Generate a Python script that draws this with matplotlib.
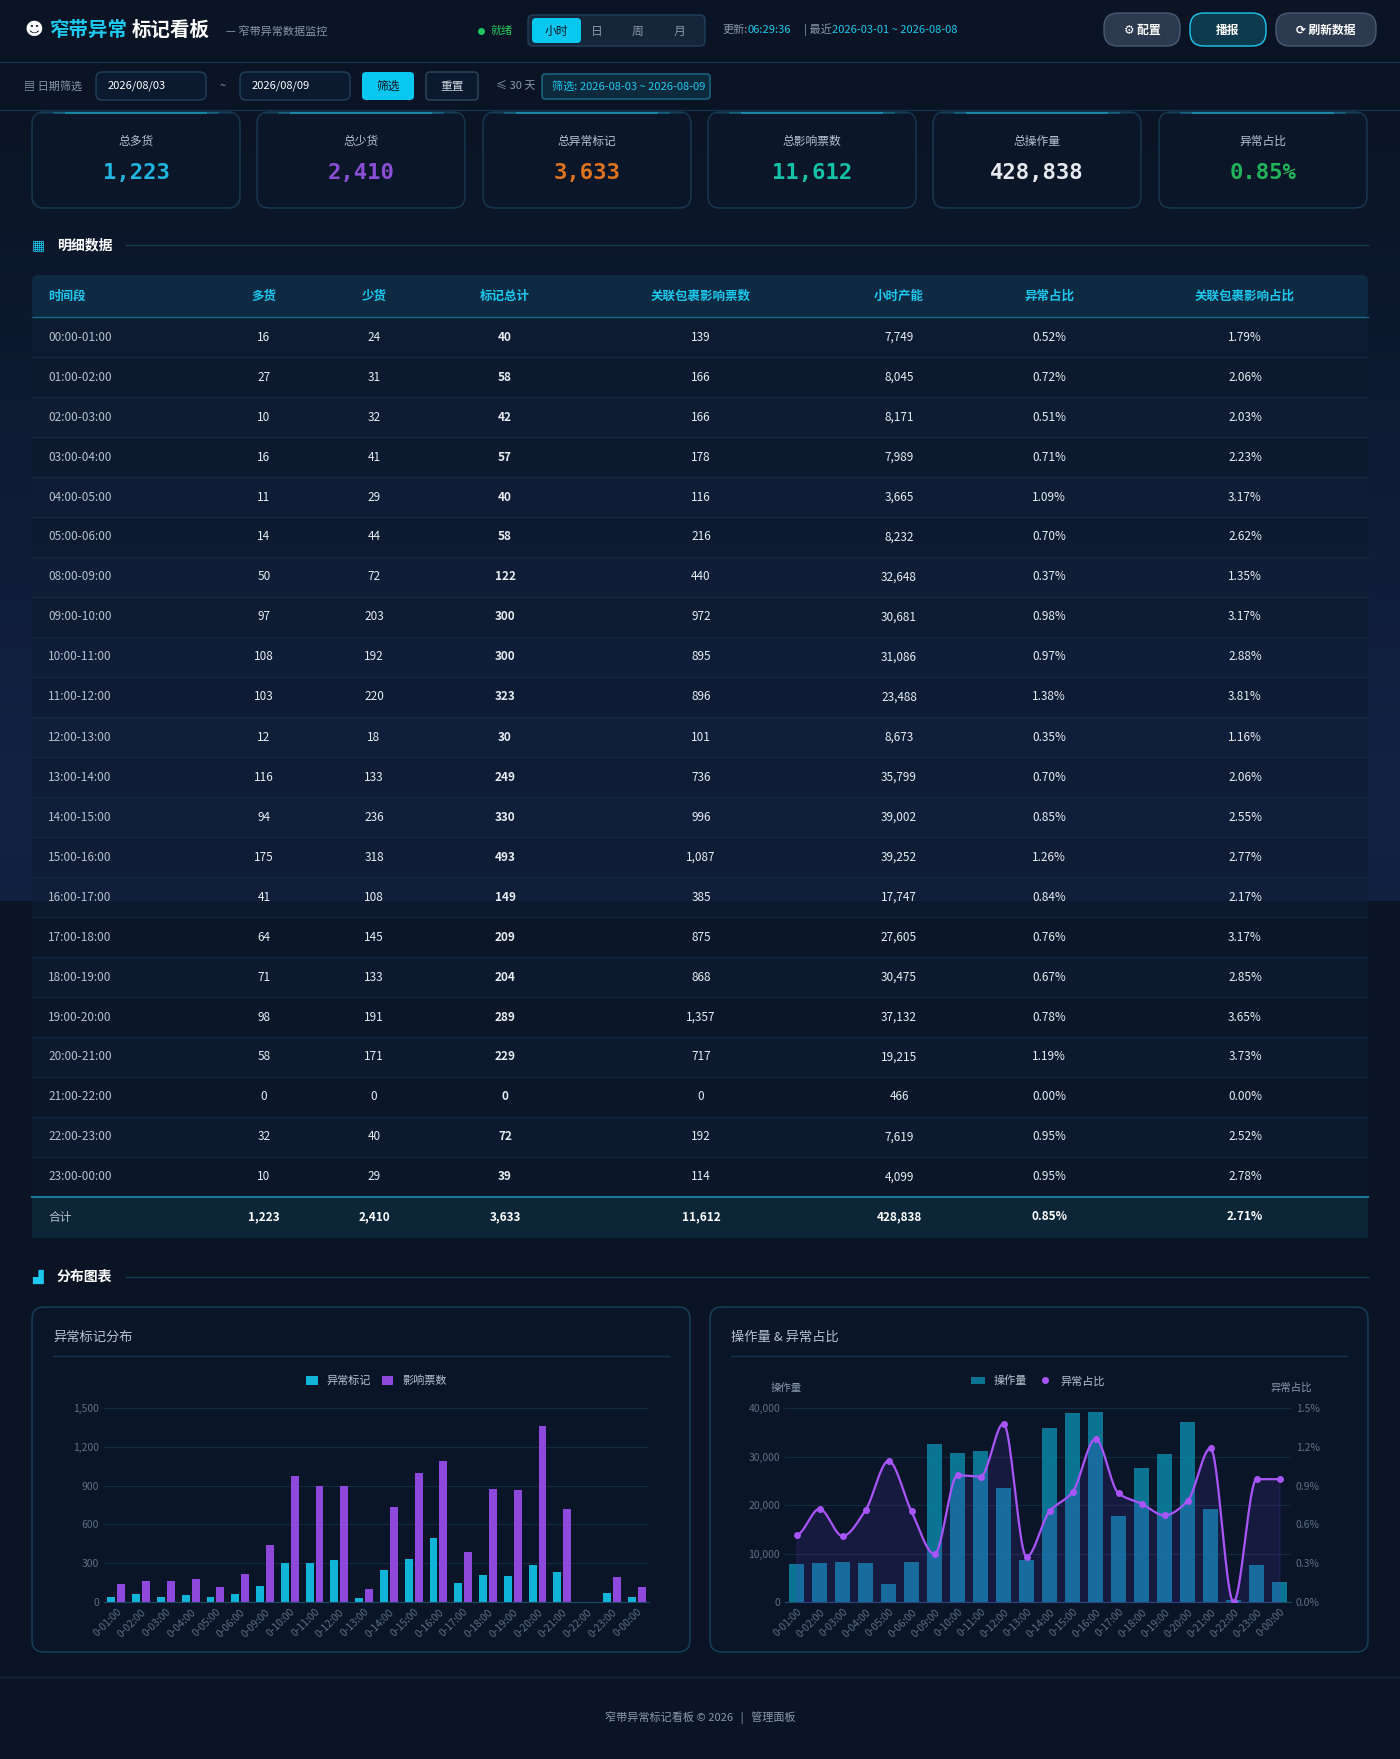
import matplotlib
matplotlib.use("Agg")
import matplotlib.pyplot as plt
import numpy as np
from matplotlib.patches import FancyBboxPatch, Rectangle

plt.rcParams["font.family"] = ["Noto Sans CJK SC", "DejaVu Sans"]

# ---- data ----
periods = ["00:00-01:00", "01:00-02:00", "02:00-03:00", "03:00-04:00", "04:00-05:00", "05:00-06:00",
           "08:00-09:00", "09:00-10:00", "10:00-11:00", "11:00-12:00", "12:00-13:00", "13:00-14:00",
           "14:00-15:00", "15:00-16:00", "16:00-17:00", "17:00-18:00", "18:00-19:00", "19:00-20:00",
           "20:00-21:00", "21:00-22:00", "22:00-23:00", "23:00-00:00"]
over = [16, 27, 10, 16, 11, 14, 50, 97, 108, 103, 12, 116, 94, 175, 41, 64, 71, 98, 58, 0, 32, 10]
short = [24, 31, 32, 41, 29, 44, 72, 203, 192, 220, 18, 133, 236, 318, 108, 145, 133, 191, 171, 0, 40, 29]
marks = [40, 58, 42, 57, 40, 58, 122, 300, 300, 323, 30, 249, 330, 493, 149, 209, 204, 289, 229, 0, 72, 39]
tickets = [139, 166, 166, 178, 116, 216, 440, 972, 895, 896, 101, 736, 996, 1087, 385, 875, 868, 1357,
           717, 0, 192, 114]
capacity = [7749, 8045, 8171, 7989, 3665, 8232, 32648, 30681, 31086, 23488, 8673, 35799, 39002, 39252,
            17747, 27605, 30475, 37132, 19215, 466, 7619, 4099]
abn_rate = [0.52, 0.72, 0.51, 0.71, 1.09, 0.70, 0.37, 0.98, 0.97, 1.38, 0.35, 0.70, 0.85, 1.26, 0.84,
            0.76, 0.67, 0.78, 1.19, 0.00, 0.95, 0.95]
pkg_rate = [1.79, 2.06, 2.03, 2.23, 3.17, 2.62, 1.35, 3.17, 2.88, 3.81, 1.16, 2.06, 2.55, 2.77, 2.17,
            3.17, 2.85, 3.65, 3.73, 0.00, 2.52, 2.78]
kpi_labels = ["总多货", "总少货", "总异常标记", "总影响票数", "总操作量", "异常占比"]
kpi_values = ["1,223", "2,410", "3,633", "11,612", "428,838", "0.85%"]
kpi_colors = ["#1fb6e0", "#8b4fd6", "#e0731f", "#14c2a8", "#e6e9ef", "#22b45a"]
headers = ["时间段", "多货", "少货", "标记总计", "关联包裹影响票数", "小时产能", "异常占比", "关联包裹影响占比"]
totals = ["合计", "1,223", "2,410", "3,633", "11,612", "428,838", "0.85%", "2.71%"]

W, H = 1400, 1759
CYAN = "#1cc8ee"
MUTED = "#8a97ab"

fig = plt.figure(figsize=(W / 100, H / 100), dpi=100)
bg = fig.add_axes([0, 0, 1, 1])
bg.set_xlim(0, W)
bg.set_ylim(H, 0)
bg.axis("off")

# background: dark top/bottom, bluish middle band
yy = np.arange(H)
band = np.clip(1 - np.abs(yy - 800) / 700, 0, 1)
band[yy > 900] = 0
c0 = np.array([0x0a, 0x14, 0x24]) / 255
c1 = np.array([0x12, 0x22, 0x44]) / 255
img = c0[None, :] * (1 - band[:, None]) + c1[None, :] * band[:, None]
bg.imshow(img[:, None, :].repeat(2, axis=1), extent=(0, W, H, 0), aspect="auto", zorder=0)


def rbox(x, y, w, h, fc, ec, r=8, lw=1, z=1, alpha=1):
    bg.add_patch(FancyBboxPatch((x, y), w, h, boxstyle=f"round,pad=0,rounding_size={r}",
                                fc=fc, ec=ec, lw=lw, zorder=z, alpha=alpha))


def txt(x, y, s, size=9, color="#dfe6ee", ha="left", weight="normal", **kw):
    bg.text(x, y, s, fontsize=size, color=color, ha=ha, va="center", weight=weight, zorder=5, **kw)


# ---- header ----
bg.add_patch(Rectangle((0, 0), W, 62, fc="#0a1424", zorder=1))
bg.plot([0, W], [62, 62], color="#14324a", lw=1, zorder=2)
txt(24, 30, "☻", 13, "white", family=["DejaVu Sans"])
txt(50, 30, "窄带异常", 14, CYAN, weight="bold")
txt(132, 30, "标记看板", 14, "white", weight="bold")
txt(226, 31, "— 窄带异常数据监控", 8, MUTED)
bg.plot([481], [31], "o", color="#22c55e", ms=4, zorder=5)
txt(490, 31, "就绪", 8, "#22c55e")
rbox(528, 15, 177, 31, "#15263b", "#21405a", r=5)
rbox(532, 18, 49, 25, "#08c8f0", "none", r=4, z=3)
for i, s in enumerate(["小时", "日", "周", "月"]):
    txt(556 + i * 41, 31, s, 8.5, "#0a1424" if i == 0 else MUTED, ha="center")
txt(722, 30, "更新:", 8, MUTED)
txt(748, 30, "06:29:36", 8, CYAN)
txt(804, 30, "| 最近", 8, MUTED)
txt(832, 30, "2026-03-01 ~ 2026-08-08", 8, CYAN)
for x, w, s, fc, ec in [(1104, 76, "⚙ 配置", "#2c3a4f", "#4a5a70"),
                        (1190, 76, "播报", "#0d3a4c", "#1cc8ee"),
                        (1276, 100, "⟳ 刷新数据", "#2c3a4f", "#4a5a70")]:
    rbox(x, 13, w, 33, fc, ec, r=14, z=3)
    txt(x + w / 2, 30, s, 8.5, "white", ha="center", weight="bold")

# ---- filter bar ----
bg.plot([0, W], [110, 110], color="#14324a", lw=1, zorder=2)
txt(24, 86, "▤ 日期筛选", 8, MUTED)
rbox(96, 72, 110, 28, "#0c1a30", "#21405a", r=6, z=3)
txt(108, 86, "2026/08/03", 8, "white")
txt(223, 86, "~", 8, MUTED, ha="center")
rbox(240, 72, 110, 28, "#0c1a30", "#21405a", r=6, z=3)
txt(252, 86, "2026/08/09", 8, "white")
rbox(362, 72, 52, 28, "#08c8f0", "none", r=4, z=3)
txt(388, 86, "筛选", 8.5, "#0a1424", ha="center")
rbox(426, 72, 52, 28, "#0c1a30", "#2c4a60", r=4, z=3)
txt(452, 86, "重置", 8.5, "#c8d2de", ha="center")
txt(496, 86, "≤ 30 天", 8, MUTED)
rbox(542, 74, 168, 25, "#0c2a3c", "#1d6f8a", r=3, z=3)
txt(552, 86, "筛选: 2026-08-03 ~ 2026-08-09", 8, CYAN)

# ---- KPI cards ----
card_x = [32, 257, 483, 708, 933, 1159]
for x, lab, val, col in zip(card_x, kpi_labels, kpi_values, kpi_colors):
    rbox(x, 112, 208, 96, "#0b1628", "#1a3a52", r=12, z=2)
    for k, a in enumerate([0.15, 0.35, 0.7]):
        pad = 10 + k * 12
        bg.plot([x + pad, x + 208 - pad], [113, 113], color="#1a9cc0", lw=1.4, alpha=a, zorder=3)
    txt(x + 104, 141, lab, 8.5, "#b8c2cf", ha="center")
    txt(x + 104, 173, val, 16, col, ha="center", weight="bold", family=["DejaVu Sans Mono"])

# ---- table ----
txt(32, 245, "▦", 10, CYAN, family=["DejaVu Sans"])
txt(57, 245, "明细数据", 10, "white", weight="bold")
bg.plot([126, 1368], [245, 245], color="#173d55", lw=1, zorder=2)

col_x = [48, 264, 374, 505, 701, 899, 1049, 1245]
row_h = 40
top = 275
rbox(32, top, 1336, 42, "#0d2a42", "none", r=6, z=2)
bg.plot([32, 1368], [top + 42, top + 42], color="#1a6d8a", lw=1, zorder=3)
for i, h in enumerate(headers):
    txt(col_x[i], top + 21, h, 9, CYAN, ha="left" if i == 0 else "center", weight="bold")

y0 = top + 42
for r in range(len(periods)):
    yc = y0 + r * row_h + row_h / 2
    fc = "#0f1e35" if r % 2 == 0 else "#0c1a2e"
    bg.add_patch(Rectangle((32, y0 + r * row_h), 1336, row_h, fc=fc, alpha=0.6, zorder=1.5))
    bg.plot([32, 1368], [y0 + (r + 1) * row_h] * 2, color="#142a40", lw=0.8, zorder=2)
    vals = [periods[r], f"{over[r]}", f"{short[r]}", f"{marks[r]}", f"{tickets[r]:,}",
            f"{capacity[r]:,}", f"{abn_rate[r]:.2f}%", f"{pkg_rate[r]:.2f}%"]
    for i, v in enumerate(vals):
        txt(col_x[i], yc, v, 8.5, "#b6c0cc" if i == 0 else "#e8edf3",
            ha="left" if i == 0 else "center", weight="bold" if i == 3 else "normal")
ty = y0 + len(periods) * row_h
bg.add_patch(Rectangle((32, ty), 1336, 41, fc="#0c2638", zorder=2))
bg.plot([32, 1368], [ty, ty], color="#1a7a98", lw=1.5, zorder=3)
for i, v in enumerate(totals):
    txt(col_x[i], ty + 20, v, 8.5, "#b6c0cc" if i == 0 else "white",
        ha="left" if i == 0 else "center", weight="normal" if i == 0 else "bold")

# ---- charts section ----
txt(32, 1277, "▟", 10, CYAN, family=["DejaVu Sans"])
txt(57, 1277, "分布图表", 10, "white", weight="bold")
bg.plot([126, 1368], [1277, 1277], color="#173d55", lw=1, zorder=2)
for x, title in [(32, "异常标记分布"), (710, "操作量 & 异常占比")]:
    rbox(x, 1307, 658, 345, "#0a1628", "#17445c", r=12, z=2)
    txt(x + 21, 1337, title, 9.5, "#b8c2cf")
    bg.plot([x + 21, x + 637], [1356, 1356], color="#15324a", lw=1, zorder=3)

# footer
bg.plot([0, W], [1677, 1677], color="#14283c", lw=1, zorder=2)
txt(700, 1718, "窄带异常标记看板 © 2026   |   管理面板", 8, MUTED, ha="center")

short_labels = [p[4:] for p in periods]
xs = np.arange(len(periods))


def chart_axes(x0, x1, ytop, ybot):
    ax = fig.add_axes([x0 / W, 1 - ybot / H, (x1 - x0) / W, (ybot - ytop) / H])
    ax.set_facecolor("none")
    for s in ax.spines.values():
        s.set_visible(False)
    ax.spines["bottom"].set_visible(True)
    ax.spines["bottom"].set_color("#1b4a66")
    ax.tick_params(colors="#5f6e82", labelsize=7.5, length=0)
    ax.grid(axis="y", color="#132a40", lw=0.8)
    ax.set_axisbelow(True)
    ax.set_xlim(-0.5, len(periods) - 0.5)
    ax.set_xticks(xs)
    ax.set_xticklabels(short_labels, rotation=45, ha="right", rotation_mode="anchor")
    return ax


# left chart
ax1 = chart_axes(104, 649, 1408, 1602)
bw = 0.32
ax1.bar(xs - 0.2, marks, bw, color="#10b4d8", label="异常标记")
ax1.bar(xs + 0.2, tickets, bw, color="#8e48dc", label="影响票数")
ax1.set_ylim(0, 1500)
ax1.set_yticks([0, 300, 600, 900, 1200, 1500])
ax1.set_yticklabels(["0", "300", "600", "900", "1,200", "1,500"])
ax1.legend(loc="lower center", bbox_to_anchor=(0.5, 1.06), ncol=2, frameon=False,
           fontsize=8, labelcolor="#b8c2cf", handlelength=1, handleheight=0.8, columnspacing=1)

# right chart
ax2 = chart_axes(785, 1291, 1408, 1602)
ax2.bar(xs, capacity, 0.68, color="#0b7f9f", alpha=0.9, label="操作量")
ax2.set_ylim(0, 40000)
ax2.set_yticks([0, 10000, 20000, 30000, 40000])
ax2.set_yticklabels(["0", "10,000", "20,000", "30,000", "40,000"])
ax3 = ax2.twinx()
for s in ax3.spines.values():
    s.set_visible(False)
ax3.tick_params(colors="#5f6e82", labelsize=7.5, length=0)
ax3.set_ylim(0, 1.5)
ax3.set_yticks([0, 0.3, 0.6, 0.9, 1.2, 1.5])
ax3.set_yticklabels(["0.0%", "0.3%", "0.6%", "0.9%", "1.2%", "1.5%"])

# monotone cubic (Fritsch-Carlson) rendering through the points
pts = np.array(abn_rate)
d = np.diff(pts)
m = np.zeros_like(pts)
for i in range(1, len(pts) - 1):
    if d[i - 1] * d[i] > 0:
        m[i] = 2 / (1 / d[i - 1] + 1 / d[i])
sx, sy = [], []
for i in range(len(pts) - 1):
    t = np.linspace(0, 1, 24)
    h00 = 2 * t ** 3 - 3 * t ** 2 + 1
    h10 = t ** 3 - 2 * t ** 2 + t
    h01 = -2 * t ** 3 + 3 * t ** 2
    h11 = t ** 3 - t ** 2
    sx.extend(i + t)
    sy.extend(h00 * pts[i] + h10 * m[i] + h01 * pts[i + 1] + h11 * m[i + 1])
ax3.fill_between(sx, sy, 0, color="#7c3aed", alpha=0.12)
ax3.plot(sx, sy, color="#a855f7", lw=1.6)
ax3.plot(xs, pts, "o", color="#a855f7", ms=4, label="异常占比")
h1, l1 = ax2.get_legend_handles_labels()
h2, l2 = ax3.get_legend_handles_labels()
ax2.legend(h1 + h2, l1 + l2, loc="lower center", bbox_to_anchor=(0.5, 1.06), ncol=2, frameon=False,
           fontsize=8, labelcolor="#b8c2cf", handlelength=1.2, columnspacing=1)
txt(786, 1388, "操作量", 7.5, MUTED, ha="center")
txt(1291, 1388, "异常占比", 7.5, MUTED, ha="center")

fig.savefig("out.png", dpi=100, facecolor="#0a1424")
